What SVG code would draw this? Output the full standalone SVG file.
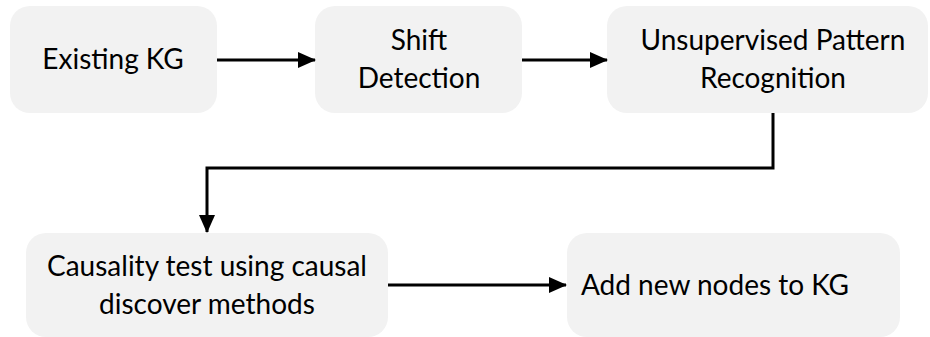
<svg xmlns="http://www.w3.org/2000/svg" width="930" height="337" viewBox="0 0 930 337">
  <defs>
    <style>
      .box { fill: #f2f2f2; }
      .label { font-family: Lato, "Open Sans", "Liberation Sans", sans-serif; font-size: 28px; fill: #000; text-anchor: middle; }
      .wire { fill: none; stroke: #000; stroke-width: 3; }
    </style>
    <marker id="arrow" markerUnits="userSpaceOnUse" markerWidth="18" markerHeight="18" viewBox="0 0 18 18" refX="17" refY="9" orient="auto">
      <path d="M0,1 L18,9 L0,17 Z" fill="#000"/>
    </marker>
  </defs>

  <!-- process steps -->
  <g id="existing-kg">
    <rect class="box" x="10" y="6" width="207" height="107" rx="20"/>
    <text class="label" x="113" y="69">Existing KG</text>
  </g>
  <g id="shift-detection">
    <rect class="box" x="315" y="6" width="207" height="107" rx="20"/>
    <text class="label" x="419" y="50">Shift</text>
    <text class="label" x="419" y="88">Detection</text>
  </g>
  <g id="pattern-recognition">
    <rect class="box" x="607" y="6" width="321" height="107" rx="20"/>
    <text class="label" x="773" y="50">Unsupervised Pattern</text>
    <text class="label" x="773" y="88">Recognition</text>
  </g>
  <g id="causality-test">
    <rect class="box" x="26" y="233" width="362" height="104" rx="20"/>
    <text class="label" x="207" y="276">Causality test using causal</text>
    <text class="label" x="207" y="314">discover methods</text>
  </g>
  <g id="add-nodes">
    <rect class="box" x="567" y="233" width="333" height="104" rx="20"/>
    <text class="label" x="715" y="295">Add new nodes to KG</text>
  </g>

  <!-- connectors -->
  <g id="connectors">
    <line class="wire" x1="217" y1="60" x2="315" y2="60" marker-end="url(#arrow)"/>
    <line class="wire" x1="522" y1="60" x2="607" y2="60" marker-end="url(#arrow)"/>
    <polyline class="wire" points="773,113 773,168 207,168 207,232" marker-end="url(#arrow)"/>
    <line class="wire" x1="388" y1="285" x2="566" y2="285" marker-end="url(#arrow)"/>
  </g>
</svg>
